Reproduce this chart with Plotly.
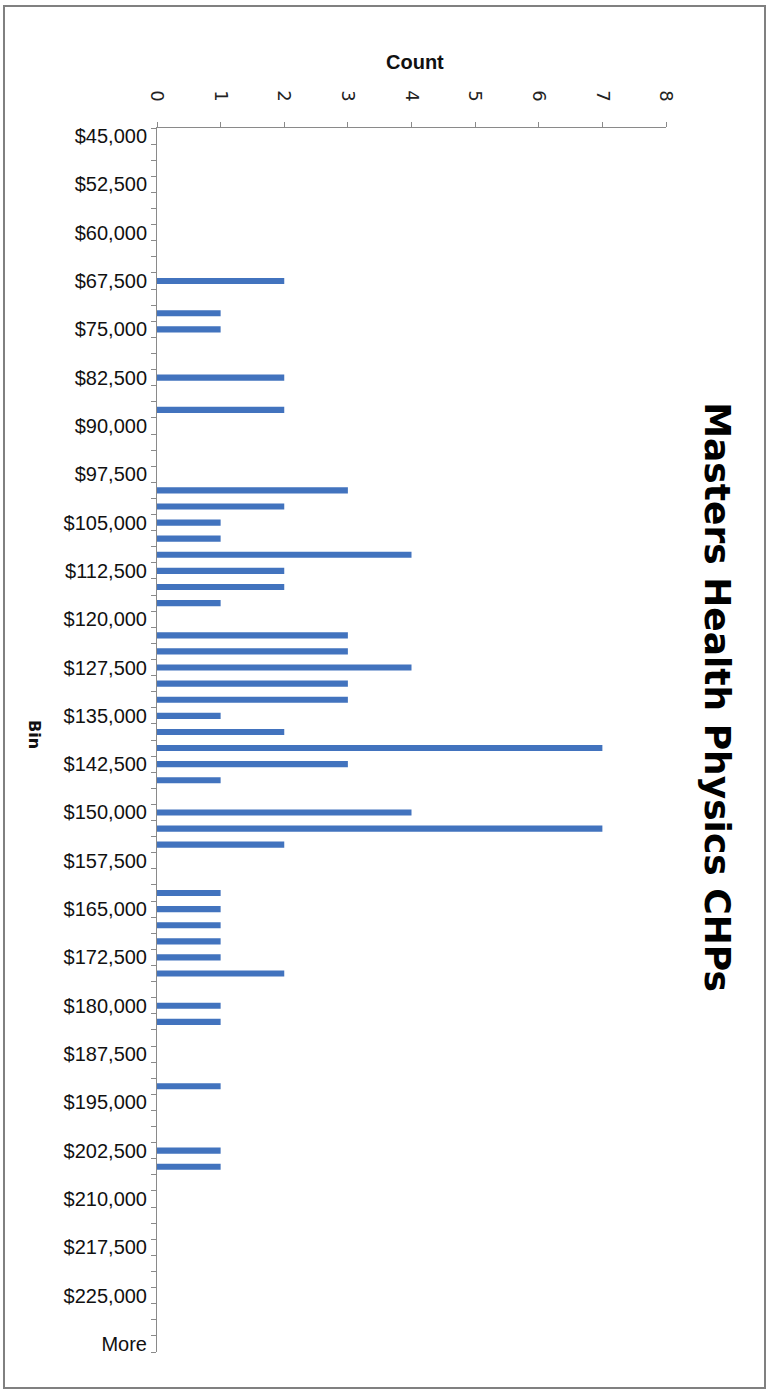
import plotly.graph_objects as go

# ---- data ----
bin_starts = list(range(45000, 230001, 2500))
bin_labels = [f"${v:,}" for v in bin_starts] + ["More"]
counts = [
    0, 0, 0, 0, 0, 0, 0, 0, 0, 2,   # 45,000 - 67,500
    0, 1, 1, 0, 0, 2, 0, 2, 0, 0,   # 70,000 - 92,500
    0, 0, 3, 2, 1, 1, 4, 2, 2, 1,   # 95,000 - 117,500
    0, 3, 3, 4, 3, 3, 1, 2, 7, 3,   # 120,000 - 142,500
    1, 0, 4, 7, 2, 0, 0, 1, 1, 1,   # 145,000 - 167,500
    1, 1, 2, 0, 1, 1, 0, 0, 0, 1,   # 170,000 - 192,500
    0, 0, 0, 1, 1, 0, 0, 0, 0, 0,   # 195,000 - 217,500
    0, 0, 0, 0, 0, 0,               # 220,000 - 230,000, More
]
count_ticks = list(range(0, 9))
shown_labels = [lab if i % 3 == 0 else "" for i, lab in enumerate(bin_labels)]

title_text = "Masters Health Physics CHPs"
x_title = "Count"
y_title = "Bin"

NARROW = "Liberation Sans, Arial, sans-serif"
WIDE = "DejaVu Sans, Verdana, sans-serif"
AXIS_COLOR = "#8a8a8a"

fig = go.Figure(
    go.Bar(
        x=counts,
        y=bin_labels,
        orientation="h",
        marker=dict(color="#4273BE", line=dict(width=0)),
    )
)

fig.update_layout(
    width=770,
    height=1398,
    margin=dict(l=157, r=104, t=128, b=46),
    paper_bgcolor="white",
    plot_bgcolor="white",
    bargap=0.62,
    showlegend=False,
    xaxis=dict(
        side="top",
        range=[0, 8],
        tickvals=count_ticks,
        ticktext=[str(t) for t in count_ticks],
        tickangle=90,
        ticks="outside",
        ticklen=5,
        tickcolor=AXIS_COLOR,
        showline=True,
        linecolor=AXIS_COLOR,
        linewidth=1,
        showgrid=False,
        zeroline=False,
        ticklabelstandoff=14,
        tickfont=dict(family=WIDE, size=18, color="#222222"),
    ),
    yaxis=dict(
        type="category",
        categoryorder="array",
        categoryarray=bin_labels,
        autorange="reversed",
        tickmode="array",
        tickvals=bin_labels,
        ticktext=shown_labels,
        tickson="boundaries",
        ticks="outside",
        ticklen=5,
        tickcolor=AXIS_COLOR,
        showline=True,
        linecolor=AXIS_COLOR,
        linewidth=1,
        showgrid=False,
        zeroline=False,
        ticklabelstandoff=5,
        tickfont=dict(family=NARROW, size=20, color="#111111"),
    ),
    annotations=[
        dict(
            text=f"<b>{x_title}</b>",
            xref="paper", yref="paper",
            x=0.507, y=1.0539,
            xanchor="center", yanchor="middle",
            showarrow=False,
            font=dict(family=NARROW, size=20, color="#111111"),
        ),
        dict(
            text=f"<b>{y_title}</b>",
            xref="paper", yref="paper",
            x=-0.2397, y=0.504,
            xanchor="center", yanchor="middle",
            textangle=90,
            showarrow=False,
            font=dict(family=WIDE, size=16, color="#111111"),
        ),
        dict(
            text=f"<b>{title_text}</b>",
            xref="paper", yref="paper",
            x=1.102, y=0.535,
            xanchor="center", yanchor="middle",
            textangle=90,
            showarrow=False,
            font=dict(family=WIDE, size=36, color="#000000"),
        ),
    ],
    shapes=[
        dict(
            type="rect",
            xref="paper", yref="paper",
            x0=-0.3006, x1=1.1945, y0=-0.0294, y1=1.0997,
            line=dict(color="#808080", width=2),
            fillcolor="rgba(0,0,0,0)",
            layer="below",
        )
    ],
)

fig.write_html("out.html")
